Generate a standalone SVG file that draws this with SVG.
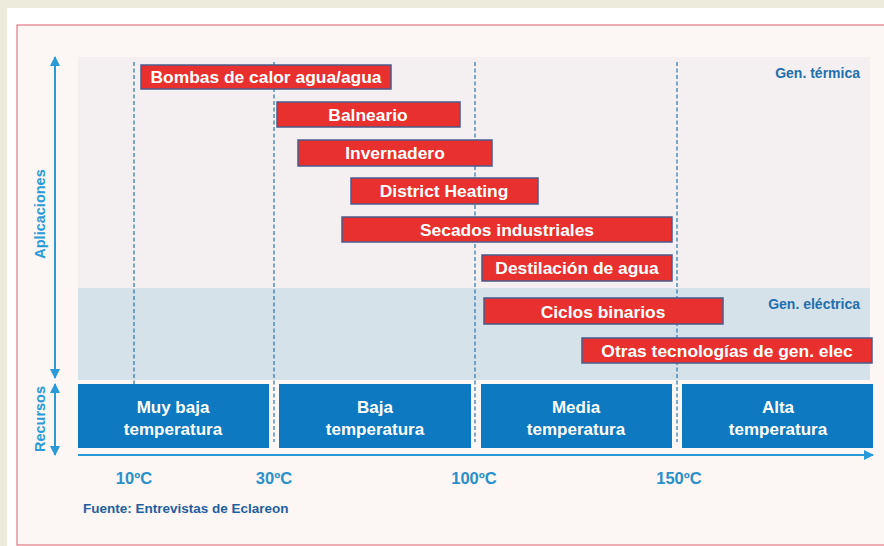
<svg xmlns="http://www.w3.org/2000/svg" width="884" height="546" viewBox="0 0 884 546">
<defs>
<style>
.bar{fill:#e8302e;stroke:#4a5b8c;stroke-width:1.5}
.bt{font-family:"Liberation Sans",Arial,sans-serif;font-weight:bold;font-size:17.4px;fill:#fff;text-anchor:middle}
.box{fill:#0c79c0}
.xt{font-family:"Liberation Sans",Arial,sans-serif;font-weight:bold;font-size:17px;fill:#fff;text-anchor:middle}
.dash{stroke:#3a7fb0;stroke-width:1.3;stroke-dasharray:4 2.5;fill:none}
.tmp{font-family:"Liberation Sans",Arial,sans-serif;font-weight:bold;font-size:16.5px;fill:#2a90c8;text-anchor:middle}
.lab{font-family:"Liberation Sans",Arial,sans-serif;font-weight:bold;font-size:14px;fill:#1f6fae;text-anchor:end}
.ax{stroke:#2a9ad8;stroke-width:2;fill:none}
.axl{font-family:"Liberation Sans",Arial,sans-serif;font-weight:bold;font-size:14.5px;fill:#2a9ad8;text-anchor:middle}
</style>
<marker id="ah" viewBox="0 0 10 10" refX="9" refY="5" markerWidth="5" markerHeight="5" orient="auto-start-reverse"><path d="M0,0 L10,5 L0,10 z" fill="#2a9ad8"/></marker>
</defs>
<rect width="884" height="546" fill="#ecebdc"/>
<rect x="7" y="8" width="877" height="538" fill="#ffffff"/>
<rect x="17" y="25" width="880" height="520" fill="#fcf6f5" stroke="#e07a84" stroke-width="1.2"/>
<rect x="78" y="57" width="792" height="231" fill="#f4f0f1"/>
<rect x="78" y="288" width="792" height="92" fill="#d6e2e9"/>
<g id="connectors">
<line class="dash" x1="134" y1="62" x2="134" y2="384"/>
<line class="dash" x1="274" y1="62" x2="274" y2="442"/>
<line class="dash" x1="475" y1="62" x2="475" y2="442"/>
<line class="dash" x1="677" y1="62" x2="677" y2="442"/>
<line class="ax" x1="55" y1="57" x2="55" y2="378" marker-start="url(#ah)" marker-end="url(#ah)"/>
<line class="ax" x1="55" y1="384" x2="55" y2="455" marker-start="url(#ah)" marker-end="url(#ah)"/>
<line class="ax" x1="78" y1="455" x2="873" y2="455" marker-end="url(#ah)"/>
</g>
<text class="axl" transform="translate(45,214) rotate(-90)">Aplicaciones</text>
<text class="axl" transform="translate(45,419) rotate(-90)">Recursos</text>
<text class="lab" x="860" y="78">Gen. térmica</text>
<text class="lab" x="860" y="309">Gen. eléctrica</text>
<g id="bombas"><rect class="bar" x="141" y="65" width="250" height="24"/><text class="bt" x="266" y="83">Bombas de calor agua/agua</text></g>
<g id="balneario"><rect class="bar" x="277" y="102" width="183" height="25"/><text class="bt" x="368" y="121">Balneario</text></g>
<g id="invernadero"><rect class="bar" x="298" y="140" width="194" height="26"/><text class="bt" x="395" y="159">Invernadero</text></g>
<g id="district"><rect class="bar" x="351" y="178" width="187" height="26"/><text class="bt" x="444" y="197">District Heating</text></g>
<g id="secados"><rect class="bar" x="342" y="217" width="330" height="25"/><text class="bt" x="507" y="236">Secados industriales</text></g>
<g id="destilacion"><rect class="bar" x="482" y="255" width="190" height="26"/><text class="bt" x="577" y="274">Destilación de agua</text></g>
<g id="ciclos"><rect class="bar" x="484" y="298" width="239" height="26"/><text class="bt" x="603" y="318">Ciclos binarios</text></g>
<g id="otras"><rect class="bar" x="582" y="338" width="290" height="25"/><text class="bt" x="727" y="357">Otras tecnologías de gen. elec</text></g>
<g id="muybaja"><rect class="box" x="78" y="384" width="191" height="64"/><text class="xt" x="173" y="413">Muy baja</text><text class="xt" x="173" y="435">temperatura</text></g>
<g id="baja"><rect class="box" x="279" y="384" width="192" height="64"/><text class="xt" x="375" y="413">Baja</text><text class="xt" x="375" y="435">temperatura</text></g>
<g id="media"><rect class="box" x="481" y="384" width="191" height="64"/><text class="xt" x="576" y="413">Media</text><text class="xt" x="576" y="435">temperatura</text></g>
<g id="alta"><rect class="box" x="682" y="384" width="191" height="64"/><text class="xt" x="778" y="413">Alta</text><text class="xt" x="778" y="435">temperatura</text></g>
<text class="tmp" x="134" y="484">10ºC</text>
<text class="tmp" x="274" y="484">30ºC</text>
<text class="tmp" x="474" y="484">100ºC</text>
<text class="tmp" x="679" y="484">150ºC</text>
<text x="83" y="513" font-family="Liberation Sans, Arial, sans-serif" font-weight="bold" font-size="13.5px" fill="#1f5fa0">Fuente: Entrevistas de Eclareon</text>
</svg>
